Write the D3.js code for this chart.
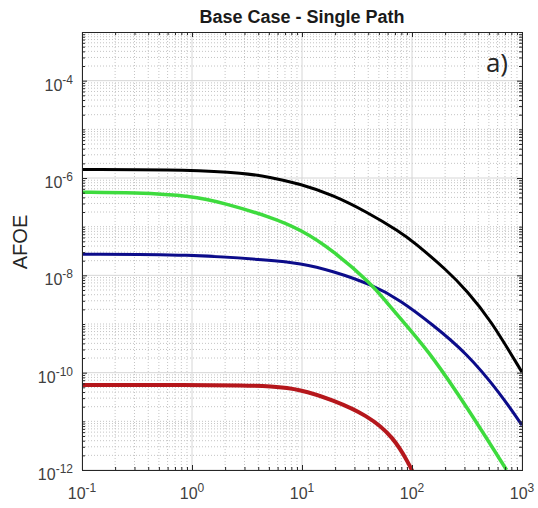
<!DOCTYPE html>
<html>
<head>
<meta charset="utf-8" />
<title>Base Case - Single Path</title>
<script src="https://d3js.org/d3.v7.min.js"></script>
<style>
body { margin: 0; background: #fff; }
svg text { font-family: "Liberation Sans", Arial, sans-serif; }
</style>
</head>
<body>
<div id="viz"></div>
<script>
// tick values and labels
var xTicks = [0.1, 1, 10, 100, 1000];
var xTickExp = ["-1", "0", "1", "2", "3"];
var yTicks = [1e-12, 1e-10, 1e-8, 1e-6, 1e-4];
var yTickExp = ["-12", "-10", "-8", "-6", "-4"];

// curves
var blackX = [0.1, 1, 3, 5, 9.6, 19, 39, 78, 102, 209, 316, 513, 1000];
var blackY = [1.5e-6, 1.48e-6, 1.26e-6, 1.05e-6, 7.6e-7, 4.5e-7, 2.0e-7, 7.8e-8, 5.0e-8, 1.26e-8, 4.8e-9, 1.26e-9, 1.02e-10];

var greenX = [0.1, 0.3, 1, 2, 5.1, 9.6, 19, 44, 56, 89, 155, 316, 724];
var greenY = [5.1e-7, 5.0e-7, 4.3e-7, 3.0e-7, 1.6e-7, 8.9e-8, 3.3e-8, 6.3e-9, 3.16e-9, 9.3e-10, 2.1e-10, 1.95e-11, 1e-12];

var blueX = [0.1, 1, 5.1, 9.6, 19, 44, 78, 155, 316, 631, 1000];
var blueY = [2.72e-8, 2.69e-8, 2.04e-8, 1.78e-8, 1.23e-8, 6.3e-9, 3.1e-9, 9.6e-10, 2.5e-10, 3.8e-11, 8.3e-12];

var redX = [0.1, 1, 3, 5.1, 9.6, 19, 39, 68, 95, 102];
var redY = [5.6e-11, 5.6e-11, 5.5e-11, 5.25e-11, 4.6e-11, 2.75e-11, 1.35e-11, 4.8e-12, 1.26e-12, 8.9e-13];

var margin = {top: 32, right: 16, bottom: 38, left: 82},
    W = 538, H = 508,
    width = W - margin.left - margin.right,
    height = H - margin.top - margin.bottom;

var svg = d3.select("#viz").append("svg")
    .attr("width", W)
    .attr("height", H);

var g = svg.append("g")
    .attr("transform", "translate(" + margin.left + "," + margin.top + ")");

var x = d3.scaleLog().domain([0.1, 1000]).range([0, width]);
var y = d3.scaleLog().domain([1e-12, 1e-3]).range([height, 0]);

// minor positions: 2..9 of every decade, plus the unlabelled decades on y
var minorX = [], minorY = [];
for (var e = -1; e < 3; e++) for (var m = 2; m <= 9; m++) minorX.push(m * Math.pow(10, e));
for (var e2 = -12; e2 < -3; e2++) for (var m2 = 1; m2 <= 9; m2++) {
  if (m2 == 1 && e2 % 2 == 0) continue;
  minorY.push(m2 * Math.pow(10, e2));
}

// minor grid (dotted)
g.append("g").selectAll("line").data(minorX).enter().append("line")
    .attr("x1", function(d) { return x(d); }).attr("x2", function(d) { return x(d); })
    .attr("y1", 0).attr("y2", height)
    .attr("stroke", "#c4c4c4").attr("stroke-width", 1).attr("stroke-dasharray", "1,2");
g.append("g").selectAll("line").data(minorY).enter().append("line")
    .attr("y1", function(d) { return y(d); }).attr("y2", function(d) { return y(d); })
    .attr("x1", 0).attr("x2", width)
    .attr("stroke", "#c4c4c4").attr("stroke-width", 1).attr("stroke-dasharray", "1,2");

// major grid
g.append("g").selectAll("line").data(xTicks).enter().append("line")
    .attr("x1", function(d) { return x(d); }).attr("x2", function(d) { return x(d); })
    .attr("y1", 0).attr("y2", height)
    .attr("stroke", "#d6d6d6").attr("stroke-width", 1);
g.append("g").selectAll("line").data(yTicks).enter().append("line")
    .attr("y1", function(d) { return y(d); }).attr("y2", function(d) { return y(d); })
    .attr("x1", 0).attr("x2", width)
    .attr("stroke", "#d6d6d6").attr("stroke-width", 1);

// curves
g.append("clipPath").attr("id", "clip").append("rect")
    .attr("width", width).attr("height", height);

var line = d3.line()
    .x(function(d) { return x(d[0]); })
    .y(function(d) { return y(d[1]); })
    .curve(d3.curveBasis);

var series = [
  {xs: redX, ys: redY, color: "#b5171c", w: 4},
  {xs: blueX, ys: blueY, color: "#0c0c8a", w: 3},
  {xs: greenX, ys: greenY, color: "#3edb3e", w: 3.5},
  {xs: blackX, ys: blackY, color: "#000000", w: 3}
];
series.forEach(function(s) {
  g.append("path")
      .datum(d3.zip(s.xs, s.ys))
      .attr("clip-path", "url(#clip)")
      .attr("fill", "none")
      .attr("stroke", s.color)
      .attr("stroke-width", s.w)
      .attr("stroke-linejoin", "round")
      .attr("d", line);
});

// box with inward ticks, minor ticks shorter
g.append("g").attr("transform", "translate(0," + height + ")")
    .call(d3.axisBottom(x).tickValues(xTicks).tickSize(-5).tickFormat(""));
g.append("g").call(d3.axisTop(x).tickValues(xTicks).tickSize(-5).tickFormat(""));
g.append("g").call(d3.axisLeft(y).tickValues(yTicks).tickSize(-5).tickFormat(""));
g.append("g").attr("transform", "translate(" + width + ",0)")
    .call(d3.axisRight(y).tickValues(yTicks).tickSize(-5).tickFormat(""));

g.append("g").attr("transform", "translate(0," + height + ")")
    .call(d3.axisBottom(x).tickValues(minorX).tickSize(-3).tickFormat(""));
g.append("g").call(d3.axisTop(x).tickValues(minorX).tickSize(-3).tickFormat(""));
g.append("g").call(d3.axisLeft(y).tickValues(minorY).tickSize(-3).tickFormat(""));
g.append("g").attr("transform", "translate(" + width + ",0)")
    .call(d3.axisRight(y).tickValues(minorY).tickSize(-3).tickFormat(""));

g.selectAll(".domain").attr("stroke", "#262626");
g.selectAll(".tick line").attr("stroke", "#262626");

// tick labels with superscripts
var xl = g.append("g").selectAll("text").data(xTicks).enter().append("text")
    .attr("x", function(d) { return x(d); })
    .attr("y", height + 29)
    .attr("text-anchor", "middle")
    .attr("font-size", 16)
    .attr("fill", "#404040");
xl.append("tspan").text("10");
xl.append("tspan").attr("dy", -7).attr("font-size", 12)
    .text(function(d, i) { return xTickExp[i]; });

var yl = g.append("g").selectAll("text").data(yTicks).enter().append("text")
    .attr("x", -9)
    .attr("y", function(d) { return y(d) + 10; })
    .attr("text-anchor", "end")
    .attr("font-size", 16)
    .attr("fill", "#404040");
yl.append("tspan").text("10");
yl.append("tspan").attr("dy", -7).attr("font-size", 12)
    .text(function(d, i) { return yTickExp[i]; });

// title, y label, panel tag
svg.append("text")
    .attr("x", margin.left + width / 2)
    .attr("y", 23)
    .attr("text-anchor", "middle")
    .attr("font-size", 18)
    .attr("font-weight", "bold")
    .attr("fill", "#1a1a1a")
    .text("Base Case - Single Path");

svg.append("text")
    .attr("transform", "translate(27,242) rotate(-90)")
    .attr("text-anchor", "middle")
    .attr("font-size", 20)
    .attr("fill", "#262626")
    .text("AFOE");

svg.append("text")
    .attr("x", 508)
    .attr("y", 72)
    .attr("text-anchor", "end")
    .attr("font-size", 26)
    .attr("fill", "#262626")
    .style("font-family", "'Open Sans', sans-serif")
    .text("a)");
</script>
</body>
</html>
